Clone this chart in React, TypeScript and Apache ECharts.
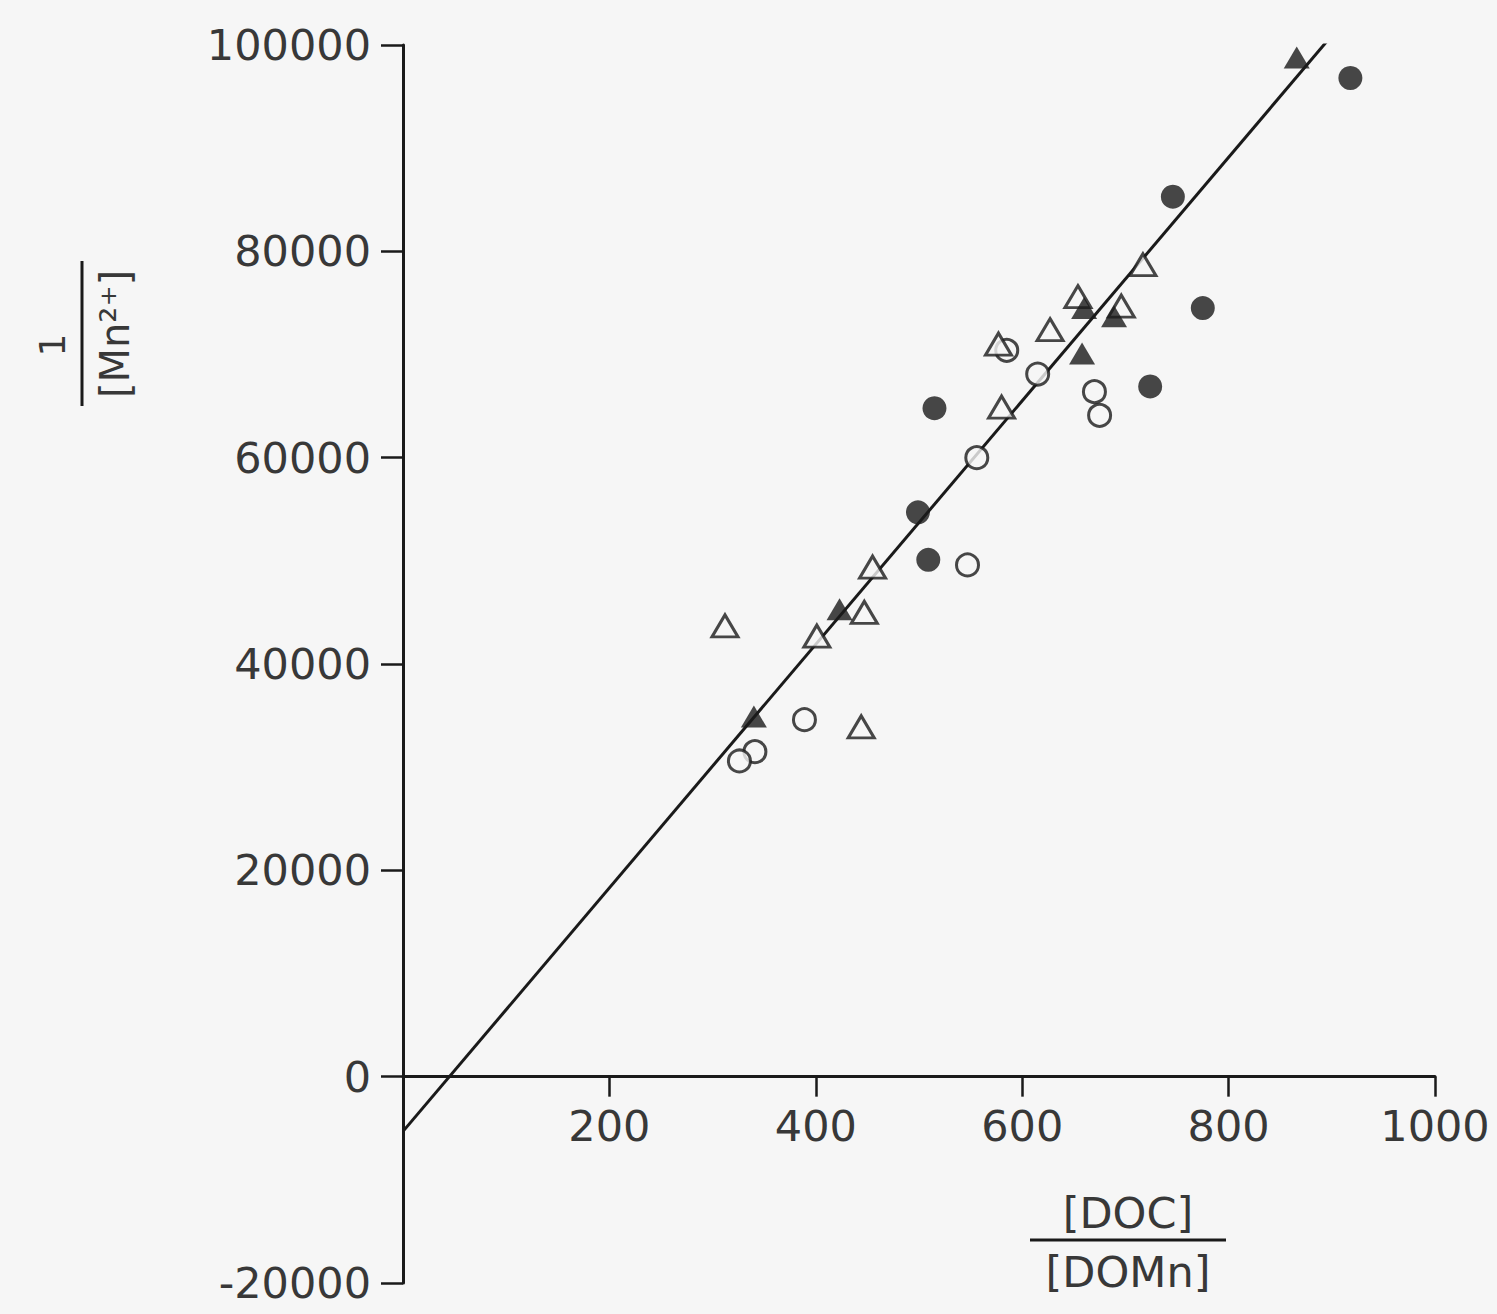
import React, { useEffect, useRef } from "react";
import * as echarts from "echarts";

// x = [DOC]/[DOMn], y = 1/[Mn2+]
const filledCircles: number[][] = [
  [918, 96800], [746, 85300], [775, 74500], [724, 66900],
  [515, 64800], [499, 54700], [509, 50100],
];
const openCircles: number[][] = [
  [585, 70400], [615, 68100], [670, 66400], [675, 64100], [556, 60000],
  [547, 49600], [389, 34600], [341, 31500], [326, 30600],
];
const openTriangles: number[][] = [
  [717, 78700], [654, 75600], [696, 74700], [627, 72400], [577, 71000],
  [580, 64900], [455, 49400], [447, 45000], [401, 42700], [312, 43700],
  [444, 33900],
];
const filledTriangles: number[][] = [
  [866, 98800], [660, 74500], [689, 73700], [658, 70100], [423, 45300],
  [340, 34900],
];
const regressionLine: number[][] = [
  [0, -5300], [899, 100800],
];

const xTicks = { min: 0, max: 1000, interval: 200 };
const yTicks = { min: -20000, max: 100000, interval: 20000 };

const BG = "#f6f6f6";
const INK = "#1a1a1a";
const TEXT = "#383838";
const FONT = "DejaVu Sans";

const GRID_TOP = 45;
const GRID_BOTTOM = 31;
const H = 1314;

export default function App() {
  const ref = useRef<HTMLDivElement>(null);
  useEffect(() => {
    document.body.style.margin = "0";
    document.body.style.background = BG;
    const chart = echarts.init(ref.current!, null, { renderer: "svg" });
    const openStyle = { color: BG, borderColor: INK, borderWidth: 3 };
    // pixel distance from grid bottom to the y = 0 line (x axis sits at y = 0)
    const plotH = H - GRID_TOP - GRID_BOTTOM;
    const zeroOffset = (plotH * (0 - yTicks.min)) / (yTicks.max - yTicks.min);
    chart.setOption({
      animation: false,
      backgroundColor: BG,
      grid: {
        left: 403,
        right: 62,
        top: GRID_TOP,
        bottom: GRID_BOTTOM,
        containLabel: false,
        outerBoundsMode: "none",
      },
      xAxis: {
        type: "value",
        position: "bottom",
        offset: -zeroOffset,
        min: xTicks.min,
        max: xTicks.max,
        interval: xTicks.interval,
        axisLine: { onZero: false, lineStyle: { color: INK, width: 3 } },
        axisTick: { show: true, length: 20, lineStyle: { color: INK, width: 2.5 } },
        axisLabel: {
          margin: 28,
          color: TEXT,
          fontSize: 43,
          fontFamily: FONT,
          formatter: (v: number) => (v === 0 ? "" : String(v)),
        },
        splitLine: { show: false },
      },
      yAxis: {
        type: "value",
        min: yTicks.min,
        max: yTicks.max,
        interval: yTicks.interval,
        axisLine: { show: true, onZero: false, lineStyle: { color: INK, width: 3 } },
        axisTick: { show: true, length: 22, lineStyle: { color: INK, width: 2.5 } },
        axisLabel: {
          margin: 32,
          color: TEXT,
          fontSize: 43,
          fontFamily: FONT,
          formatter: (v: number) => String(v),
        },
        splitLine: { show: false },
      },
      series: [
        {
          type: "line",
          data: regressionLine,
          symbol: "none",
          lineStyle: { color: INK, width: 3 },
          z: 1,
        },
        {
          type: "scatter",
          data: openCircles,
          symbol: "circle",
          symbolSize: 22,
          itemStyle: openStyle,
          z: 3,
        },
        {
          type: "scatter",
          data: openTriangles,
          symbol: "triangle",
          symbolSize: [26, 22],
          itemStyle: openStyle,
          z: 3,
        },
        {
          type: "scatter",
          data: filledCircles,
          symbol: "circle",
          symbolSize: 24,
          itemStyle: { color: INK },
          z: 4,
        },
        {
          type: "scatter",
          data: filledTriangles,
          symbol: "triangle",
          symbolSize: [26, 22],
          itemStyle: { color: INK },
          z: 4,
        },
      ],
      graphic: [
        {
          type: "group",
          x: 82,
          y: 334,
          rotation: Math.PI / 2,
          children: [
            {
              type: "text",
              x: -11,
              y: -30,
              style: {
                text: "1",
                font: `36px "${FONT}"`,
                fill: TEXT,
                align: "center",
                verticalAlign: "middle",
              },
            },
            {
              type: "line",
              shape: { x1: -72, y1: 0, x2: 73, y2: 0 },
              style: { stroke: INK, lineWidth: 3 },
            },
            {
              type: "text",
              x: 0,
              y: 33,
              style: {
                text: "[Mn²⁺]",
                font: `40px "${FONT}"`,
                fill: TEXT,
                align: "center",
                verticalAlign: "middle",
              },
            },
          ],
        },
        {
          type: "text",
          x: 1128,
          y: 1213,
          style: {
            text: "[DOC]",
            font: `43px "${FONT}"`,
            fill: TEXT,
            align: "center",
            verticalAlign: "middle",
          },
        },
        {
          type: "line",
          shape: { x1: 1030, y1: 1240, x2: 1226, y2: 1240 },
          style: { stroke: INK, lineWidth: 3 },
        },
        {
          type: "text",
          x: 1128,
          y: 1272,
          style: {
            text: "[DOMn]",
            font: `43px "${FONT}"`,
            fill: TEXT,
            align: "center",
            verticalAlign: "middle",
          },
        },
      ],
    });
    return () => chart.dispose();
  }, []);
  return (
    <div
      ref={ref}
      style={{ position: "absolute", left: 0, top: 0, width: 1497, height: 1314, background: BG }}
    />
  );
}
